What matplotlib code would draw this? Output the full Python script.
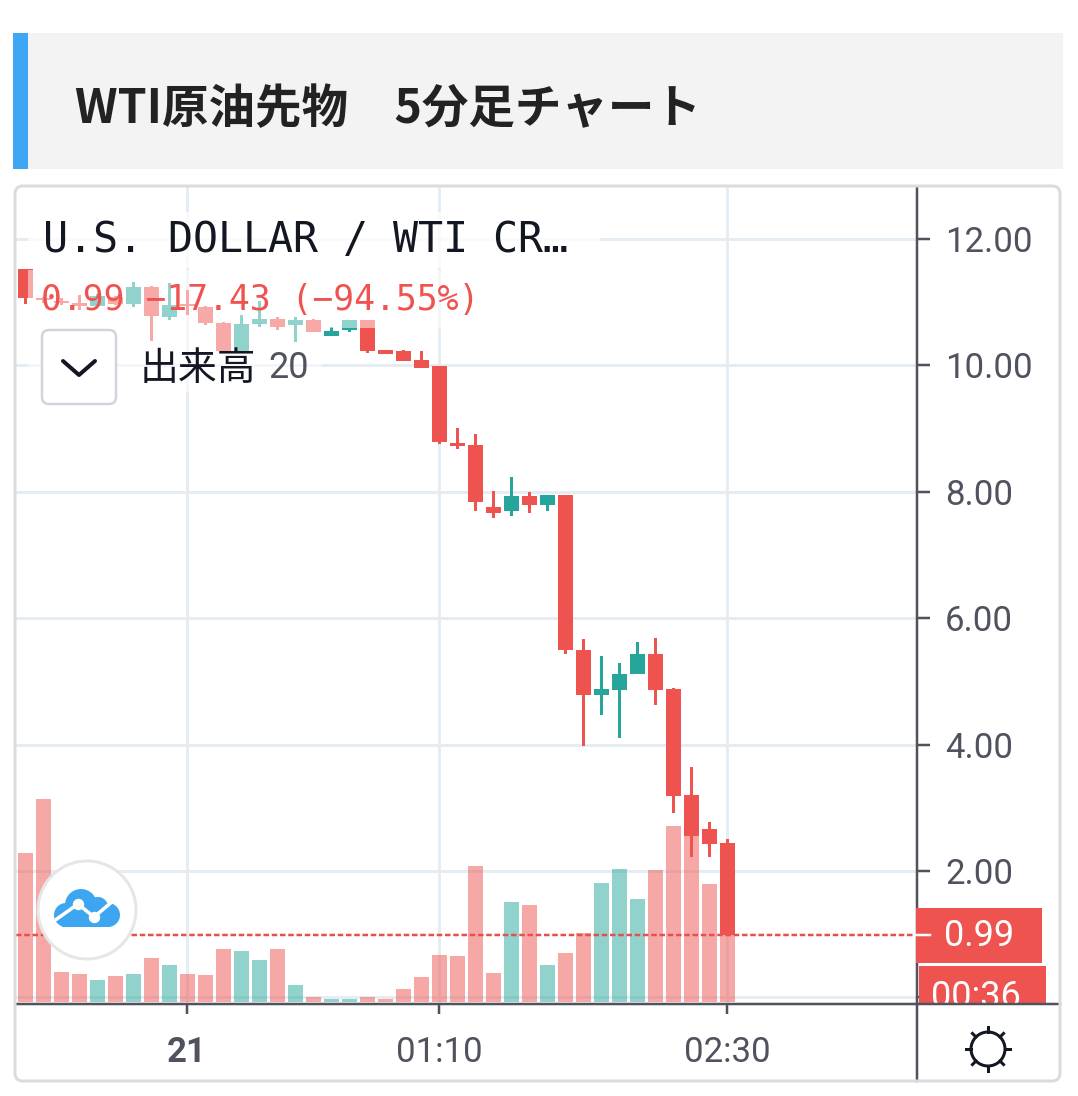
import matplotlib
matplotlib.use("Agg")
import numpy as np
import matplotlib.pyplot as plt
from matplotlib.patches import Rectangle, FancyBboxPatch, Circle

W, H = 1078, 1096
PX = 72 / 100

RED = "#ef5350"
TEAL = "#26a69a"
GREY = "#50535e"

opens = [11.53,11.07,11.02,10.98,10.94,11.08,10.97,11.24,10.77,10.97,10.92,10.67,10.22,10.66,10.73,10.63,10.72,10.47,10.55,10.72,
         10.24,10.23,10.08,9.99,8.77,8.74,7.76,7.69,7.93,7.79,7.95,5.50,4.79,4.87,5.11,5.43,4.88,3.20,2.66,2.44]
highs = [11.53,11.08,11.06,11.11,11.12,11.09,11.31,11.26,11.30,11.19,10.93,10.68,10.80,11.01,10.76,10.77,10.73,10.60,10.72,10.72,
         10.24,10.24,10.22,9.99,9.01,8.91,8.01,8.23,8.00,7.95,7.95,5.67,5.40,5.29,5.62,5.69,4.90,3.65,2.78,2.51]
lows = [10.97,10.99,10.95,10.87,10.92,10.95,10.92,10.39,10.71,10.80,10.63,10.21,10.20,10.61,10.56,10.37,10.52,10.47,10.53,10.20,
        10.18,10.06,9.96,8.76,8.67,7.69,7.59,7.61,7.67,7.70,5.44,3.98,4.46,4.11,5.11,4.62,2.92,2.22,2.22,0.99]
closes = [11.06,11.03,10.99,10.93,11.09,10.97,11.24,10.78,10.95,10.93,10.67,10.22,10.65,10.73,10.61,10.71,10.52,10.54,10.72,10.22,
          10.18,10.07,9.96,8.78,8.72,7.83,7.66,7.93,7.79,7.95,5.49,4.79,4.88,5.12,5.43,4.87,3.19,2.55,2.43,0.99]
volumes = [149,203,30,28,22,26,28,44,37,28,27,53,51,42,53,17,5,3,3,5,
           3,13,25,47,46,136,29,100,97,37,49,69,119,133,103,132,176,167,118,70]
price_ticks = [0, 2, 4, 6, 8, 10, 12]
price_labels = ["", "2.00", "4.00", "6.00", "8.00", "10.00", "12.00"]
time_ticks = [9, 23, 39]
time_labels = ["21", "01:10", "02:30"]
last_price = 0.99

plt.rcParams["font.family"] = ["Roboto", "Noto Sans CJK JP", "DejaVu Sans"]
fig = plt.figure(figsize=(W / 100, H / 100), dpi=100, facecolor="white")

# chart panel spans x 16-917, y 187-1004 in pixels
ax = fig.add_axes([16 / W, 1 - 1004 / H, (917 - 16) / W, (1004 - 187) / H])
ax.set_xlim(-0.5, 49.56)
ax.set_ylim(-0.104, 12.82)
ax.patch.set_alpha(0)

x = np.arange(len(opens))
o, h, l, c = map(np.array, (opens, highs, lows, closes))
colors = [TEAL if cl >= op else RED for op, cl in zip(opens, closes)]

# volume on its own overlaid scale
vax = ax.twinx()
vax.set_ylim(-2, 815)
vax.axis("off")
vax.bar(x + 0.02, volumes, width=0.83, color=colors, alpha=0.5, zorder=1)

cax = ax.twinx()
cax.set_ylim(ax.get_ylim())
cax.axis("off")
cax.bar(x + 0.02, h - l, bottom=l, width=0.17, color=colors, zorder=3)
cax.bar(x + 0.02, np.abs(c - o), bottom=np.minimum(o, c), width=0.83, color=colors, zorder=4)
cax.axhline(last_price, color="#e5504d", lw=2.5 * PX, ls=(0, (2.2, 1.1)), zorder=2)

for s in ("left", "top"):
    ax.spines[s].set_visible(False)
for s in ("right", "bottom"):
    ax.spines[s].set_color(GREY)
    ax.spines[s].set_linewidth(2.5 * PX)
ax.yaxis.set_ticks_position("right")
ax.yaxis.set_label_position("right")
ax.set_yticks(price_ticks, price_labels)
ax.set_xticks(time_ticks, time_labels)
ax.tick_params(axis="y", length=13 * PX, width=2.5 * PX, color=GREY, labelcolor=GREY,
               labelsize=25, pad=15 * PX)
ax.tick_params(axis="x", length=10 * PX, width=2.5 * PX, color=GREY, labelcolor=GREY,
               labelsize=25, pad=22 * PX)
ax.get_xticklabels()[0].set_fontweight("bold")
ax.grid(True, color="#e6edf2", lw=3 * PX)
ax.set_axisbelow(True)

# pixel-space layer for the page furniture
ov = fig.add_axes([0, 0, 1, 1])
ov.set_xlim(0, W)
ov.set_ylim(H, 0)
ov.axis("off")
ov.patch.set_alpha(0)

# header
ov.add_patch(Rectangle((13, 33), 1050, 136, fc="#f3f3f3", ec="none"))
ov.add_patch(Rectangle((13, 33), 15, 136, fc="#3ea6f5", ec="none"))
ov.text(75, 109, "WTI原油先物　5分足チャート", fontsize=33.5, fontweight="bold", color="#222222",
        va="center", ha="left", family=["Noto Sans CJK JP", "DejaVu Sans"])

# legend veils
ov.add_patch(Rectangle((28, 212), 572, 56, fc="white", ec="none", alpha=0.75))
ov.add_patch(Rectangle((28, 270), 462, 58, fc="white", ec="none", alpha=0.5))
ov.add_patch(Rectangle((28, 328), 294, 64, fc="white", ec="none", alpha=0.5))

ov.text(43, 240, "U.S. DOLLAR / WTI CR…", fontsize=30, color="#131722", va="center", ha="left",
        family=["DejaVu Sans Mono"])
ov.text(41, 300, "0.99 −17.43 (−94.55%)", fontsize=25, color=RED, va="center", ha="left",
        family=["DejaVu Sans Mono"])
ov.text(140, 369, "出来高", fontsize=28, color="#131722", va="center", ha="left",
        family=["Noto Sans CJK JP", "DejaVu Sans"])
ov.text(268, 368, "20", fontsize=26, color=GREY, va="center", ha="left")

# collapse button
ov.add_patch(FancyBboxPatch((42, 330), 74, 74, boxstyle="round,pad=0,rounding_size=7",
                            fc="white", ec="#d1d4dc", lw=2.5 * PX))
ov.plot([63, 79, 95], [361, 375, 361], color="#131722", lw=4 * PX, solid_capstyle="round",
        solid_joinstyle="round")

# logo
ov.add_patch(Circle((87, 910), 49, fc="white", ec="#e6e6e6", lw=3 * PX, zorder=5))
BLUE = "#3ea6f0"
for cx, cy, r in [(81, 905, 16), (66, 915, 12), (108, 915, 12), (98, 907, 10)]:
    ov.add_patch(Circle((cx, cy), r, fc=BLUE, ec="none", zorder=6))
ov.add_patch(Rectangle((62, 910), 48, 17, fc=BLUE, ec="none", zorder=6))
ov.plot([54, 78, 94, 113], [921, 904, 917, 901], color="white", lw=3.5 * PX, zorder=7)
ov.plot([78, 94], [904, 917], "o", color="white", ms=10 * PX, zorder=7)

# price tags
ov.add_patch(Rectangle((916, 908), 126, 55, fc=RED, ec="none", zorder=8))
ov.plot([916, 930], [935, 935], color="white", lw=2.5 * PX, zorder=9)
ov.text(979, 936, "0.99", fontsize=26, color="white", va="center", ha="center", zorder=9)
box2 = Rectangle((919, 966), 127, 38, fc=RED, ec="none", zorder=8)
ov.add_patch(box2)
t = ov.text(976, 997, "00:36", fontsize=26, color="white", va="center", ha="center", zorder=9)
t.set_clip_path(box2)

# axis extensions and outer frame
ov.plot([917, 917], [1004, 1081], color=GREY, lw=2.5 * PX, zorder=9)
ov.plot([917, 1060], [1004, 1004], color=GREY, lw=2.5 * PX, zorder=9)
ov.add_patch(FancyBboxPatch((15, 186), 1045, 895, boxstyle="round,pad=0,rounding_size=8",
                            fc="none", ec="#d9dcdf", lw=3 * PX, zorder=10))

# theme toggle
ov.add_patch(Circle((988, 1049), 17, fc="none", ec="#131722", lw=3 * PX, zorder=9))
for a in np.deg2rad(np.arange(0, 360, 45)):
    ov.plot([988 + 17 * np.cos(a), 988 + 22 * np.cos(a)], [1049 + 17 * np.sin(a), 1049 + 22 * np.sin(a)],
            color="#131722", lw=3 * PX, zorder=9)

fig.savefig("out.png", dpi=100)
